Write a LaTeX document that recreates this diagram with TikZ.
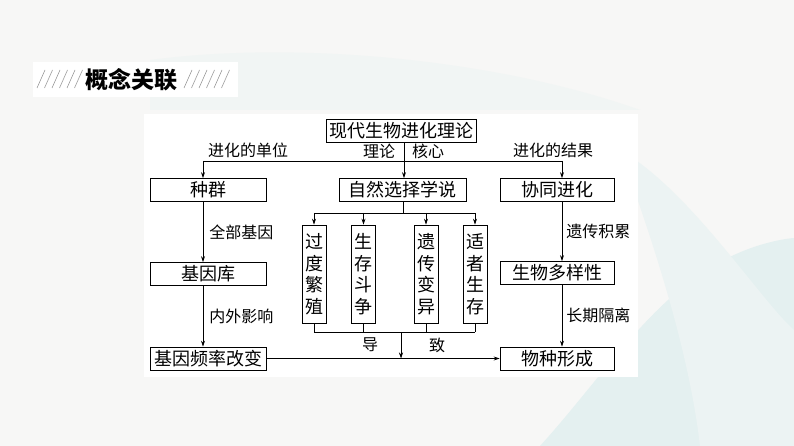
\documentclass[tikz,border=0pt]{standalone}
\usepackage{fontspec}
\setmainfont{Noto Sans CJK SC}
\usetikzlibrary{arrows.meta}
\definecolor{pagebg}{HTML}{F7F7F6}
\definecolor{leaf}{HTML}{E4F0F0}
\definecolor{stripe}{HTML}{9A9A9A}

\begin{document}
\begin{tikzpicture}[x=1pt,y=-1pt,font=\fontsize{18}{20}\selectfont,box/.style={draw,line width=0.7pt,minimum height=23pt,inner sep=0pt,fill=white},vbox/.style={draw,line width=0.7pt,minimum width=24pt,minimum height=98pt,inner sep=0pt,align=center,font=\fontsize{18}{21.5}\selectfont},lbl/.style={font=\fontsize{16}{18}\selectfont,inner sep=1pt},arr/.style={-{Stealth[length=6pt,width=4pt]}, line width=0.7pt}]
% page and background
\fill[pagebg] (0,0) rectangle (794,446);
\useasboundingbox (0,0) rectangle (794,446);
\fill[leaf] (540,446) .. controls (600,380) and (650,300) .. (720,262) .. controls (760,240) and (794,238) .. (794,238) -- (794,446) -- cycle;
\fill[leaf!60!pagebg] (620,150) .. controls (690,190) and (760,300) .. (794,330) -- (794,446) -- (700,446) .. controls (690,360) and (660,260) .. cycle;
\fill[leaf!30!pagebg] (150,60) .. controls (300,40) and (500,60) .. (640,110) -- (150,110) -- cycle;
\fill[white] (144,114) rectangle (638,377);
% title banner
\fill[white] (33,62) rectangle (238,97);
\foreach \x in {37,44.5,...,75} \draw[stripe,line width=0.6pt] (\x,88) -- (\x+8,70);
\foreach \x in {184,191.5,...,222} \draw[stripe,line width=0.6pt] (\x,88) -- (\x+8,70);
\node[font=\bfseries\fontsize{23}{25}\selectfont] (title) at (131.5,79.5){概念关联};
% boxes
\node[box,minimum width=150pt] (theory) at (401,130.5){现代生物进化理论};
\node[box,minimum width=116pt] (pop) at (208,190){种群};
\node[box,minimum width=127pt] (select) at (402.5,190){自然选择学说};
\node[box,minimum width=114pt] (coevo) at (557,190){协同进化};
\node[box,minimum width=116pt] (pool) at (208,274){基因库};
\node[box,minimum width=114pt] (divers) at (557,273){生物多样性};
\node[box,minimum width=116pt] (freq) at (208,358.5){基因频率改变};
\node[box,minimum width=114pt] (species) at (557,358.5){物种形成};
\node[vbox] (over) at (314,274){过\\度\\繁\\殖};
\node[vbox] (strug) at (363.5,274){生\\存\\斗\\争};
\node[vbox] (vari) at (426,274){遗\\传\\变\\异};
\node[vbox] (fit) at (475,274){适\\者\\生\\存};
% joints
\coordinate (split) at (404,161);
\coordinate (lcol) at (203,161);
\coordinate (rcol) at (562,161);
\coordinate (fork) at (403,213);
\coordinate (join) at (401,332);
% labels
\node[lbl] (unit) at (248,150.5){进化的单位};
\node[lbl] (core1) at (379,151){理论};
\node[lbl] (core2) at (428,151){核心};
\node[lbl] (result) at (553,150.5){进化的结果};
\node[lbl] (lead1) at (370,345){导};
\node[lbl] (lead2) at (437,345){致};
% connectors
\draw[line width=0.7pt] (lcol) -- (rcol);\draw[arr] (lcol) -- (lcol |- pop.north);\draw[arr] (rcol) -- (rcol |- coevo.north);\draw[arr] (theory.south -| split) -- (select.north -| split);
\draw[arr] (lcol |- pop.south) -- node[lbl,right=5pt] (allgenes){全部基因} (lcol |- pool.north);\draw[arr] (lcol |- pool.south) -- node[lbl,right=5pt] (influence){内外影响} (lcol |- freq.north);
\draw[arr] (rcol |- coevo.south) -- node[lbl,right=3pt] (accum){遗传积累} (rcol |- divers.north);\draw[arr] (rcol |- divers.south) -- node[lbl,right=3pt] (isolate){长期隔离} (rcol |- species.north);
\draw[line width=0.7pt] (select.south -| fork) -- (fork);\draw[line width=0.7pt] (over.north |- fork) -- (fit.north |- fork);
\foreach \n in {over,strug,vari,fit} {\draw[arr] (\n.north |- fork) -- (\n.north);\draw[line width=0.7pt] (\n.south) -- (\n.south |- join);}
\draw[line width=0.7pt] (over.south |- join) -- (fit.south |- join);\draw[arr] (join) -- (join |- freq.east);\draw[arr] (freq.east) -- (species.west);
\end{tikzpicture}
\end{document}
